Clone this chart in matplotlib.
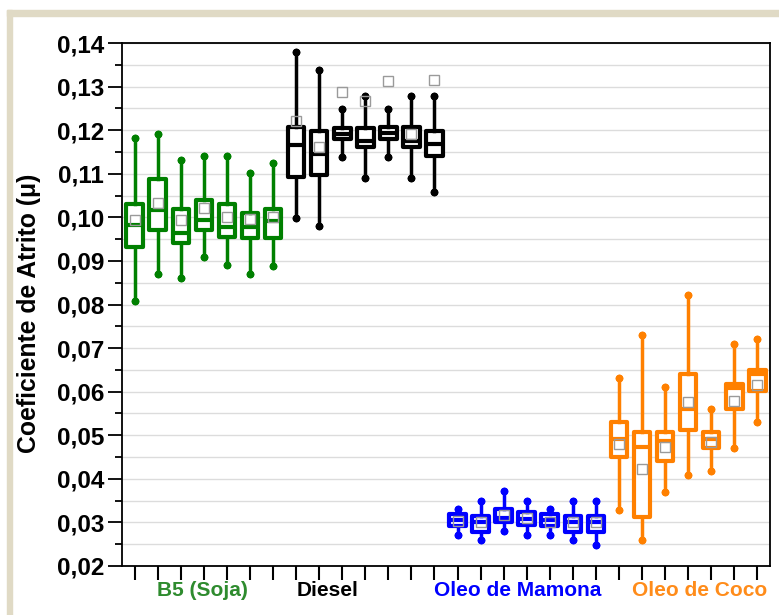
import numpy as np
import matplotlib.pyplot as plt
from matplotlib.patches import Rectangle
from matplotlib.transforms import blended_transform_factory

plt.rcParams['font.family'] = ['Liberation Sans', 'DejaVu Sans']
plt.rcParams['font.weight'] = 'bold'

# grupos e cores
grupos = ["B5 (Soja)", "Diesel", "Oleo de Mamona", "Oleo de Coco"]
cores = ["#008000", "#000000", "#0000ff", "#ff8000"]
cores_texto = ["#2e8b2e", "#000000", "#0000ff", "#ff8c1a"]
pos_rotulo = [3.95, 9.37, 17.6, 25.5]

# estatisticas (7 ensaios por grupo)
b5_min = [0.0808, 0.0870, 0.0860, 0.0910, 0.0890, 0.0870, 0.0889]
b5_q1 = [0.0932, 0.0972, 0.0942, 0.0972, 0.0954, 0.0953, 0.0952]
b5_med = [0.0982, 0.1017, 0.0965, 0.0995, 0.0978, 0.0977, 0.0992]
b5_q3 = [0.1030, 0.1089, 0.1018, 0.1039, 0.1030, 0.1010, 0.1019]
b5_max = [0.1181, 0.1191, 0.1131, 0.1141, 0.1141, 0.1102, 0.1124]
b5_media = [0.0995, 0.1033, 0.0994, 0.1022, 0.1001, 0.0996, 0.1001]

diesel_min = [0.0999, 0.0979, 0.1138, 0.1090, 0.1138, 0.1090, 0.1059]
diesel_q1 = [0.1092, 0.1098, 0.1180, 0.1161, 0.1180, 0.1161, 0.1140]
diesel_med = [0.1166, 0.1145, 0.1191, 0.1176, 0.1193, 0.1174, 0.1168]
diesel_q3 = [0.1208, 0.1197, 0.1206, 0.1205, 0.1208, 0.1208, 0.1199]
diesel_max = [0.1380, 0.1339, 0.1248, 0.1279, 0.1248, 0.1279, 0.1279]
diesel_media = [0.1222, 0.1162, 0.1287, 0.1266, 0.1312, 0.1191, 0.1316]

mamona_min = [0.0272, 0.0260, 0.0281, 0.0272, 0.0272, 0.0260, 0.0248]
mamona_q1 = [0.0291, 0.0279, 0.0302, 0.0295, 0.0291, 0.0279, 0.0279]
mamona_med = [0.0305, 0.0300, 0.0310, 0.0308, 0.0306, 0.0300, 0.0300]
mamona_q3 = [0.0320, 0.0315, 0.0331, 0.0323, 0.0320, 0.0315, 0.0315]
mamona_max = [0.0331, 0.0350, 0.0372, 0.0350, 0.0331, 0.0350, 0.0350]
mamona_media = [0.0303, 0.0300, 0.0318, 0.0310, 0.0302, 0.0300, 0.0300]

coco_min = [0.0329, 0.0259, 0.0369, 0.0409, 0.0419, 0.0470, 0.0531]
coco_q1 = [0.0449, 0.0312, 0.0441, 0.0512, 0.0470, 0.0560, 0.0602]
coco_med = [0.0492, 0.0473, 0.0487, 0.0560, 0.0492, 0.0609, 0.0640]
coco_q3 = [0.0530, 0.0508, 0.0508, 0.0640, 0.0508, 0.0618, 0.0650]
coco_max = [0.0631, 0.0730, 0.0611, 0.0821, 0.0560, 0.0709, 0.0721]
coco_media = [0.0480, 0.0423, 0.0472, 0.0576, 0.0484, 0.0579, 0.0615]

dados = [
    (b5_min, b5_q1, b5_med, b5_q3, b5_max, b5_media),
    (diesel_min, diesel_q1, diesel_med, diesel_q3, diesel_max, diesel_media),
    (mamona_min, mamona_q1, mamona_med, mamona_q3, mamona_max, mamona_media),
    (coco_min, coco_q1, coco_med, coco_q3, coco_max, coco_media),
]

y_ticks = [0.02, 0.03, 0.04, 0.05, 0.06, 0.07, 0.08, 0.09, 0.10, 0.11, 0.12, 0.13, 0.14]
y_tick_labels = ["0,02", "0,03", "0,04", "0,05", "0,06", "0,07", "0,08",
                 "0,09", "0,10", "0,11", "0,12", "0,13", "0,14"]

fig = plt.figure(figsize=(7.79, 6.15), dpi=100)
bege = '#e0dac5'
fig.patches.append(Rectangle((7 / 779, 1 - 16 / 615), 1, 6 / 615,
                             transform=fig.transFigure, color=bege, zorder=-1))
fig.patches.append(Rectangle((7 / 779, 0), 5 / 779, 1 - 10 / 615,
                             transform=fig.transFigure, color=bege, zorder=-1))

ax = fig.add_axes([122 / 779, 1 - 566 / 615, 648 / 779, 523 / 615])

n = 0
for g in range(len(grupos)):
    wmin, q1, med, q3, wmax, media = dados[g]
    c = cores[g]
    stats = []
    for k in range(len(med)):
        stats.append(dict(whislo=wmin[k], q1=q1[k], med=med[k], q3=q3[k],
                          whishi=wmax[k], mean=media[k], fliers=[]))
    pos = list(range(n + 1, n + len(med) + 1))
    n += len(med)
    ax.bxp(stats, positions=pos, widths=0.72, showmeans=True, showfliers=False,
           patch_artist=True, capwidths=0.0,
           boxprops=dict(facecolor='white', edgecolor=c, linewidth=3.0, joinstyle='round'),
           medianprops=dict(color=c, linewidth=3.0, solid_capstyle='butt'),
           whiskerprops=dict(color=c, linewidth=2.5),
           capprops=dict(color=c, linewidth=0, marker='o', markersize=4.5,
                         markerfacecolor=c, markeredgecolor=c),
           meanprops=dict(marker='s', markerfacecolor='none', markeredgecolor='#9a9a9a',
                          markersize=7, markeredgewidth=1.0))

ax.set_xlim(0.45, 28.55)
ax.set_ylim(0.02, 0.14)
ax.set_xticks(range(1, n + 1))
ax.set_xticklabels([])
ax.set_yticks(y_ticks)
ax.set_yticklabels(y_tick_labels)
ax.set_yticks(np.arange(0.025, 0.14, 0.01), minor=True)
ax.yaxis.grid(True, which='both', color='#dcdcdc', linewidth=1.0)
ax.set_axisbelow(True)

ax.tick_params(axis='y', which='major', length=10, width=1.3, labelsize=17.5, pad=3)
ax.tick_params(axis='y', which='minor', length=5, width=1.3)
ax.tick_params(axis='x', which='major', length=10, width=1.5)
for s in ax.spines.values():
    s.set_linewidth(1.3)

ax.set_ylabel("Coeficiente de Atrito (μ)", fontsize=17.8, fontweight='bold')
ax.yaxis.set_label_coords(-0.125, 0.484)

trans = blended_transform_factory(ax.transData, ax.transAxes)
for g in range(len(grupos)):
    ax.text(pos_rotulo[g], -0.046, grupos[g], transform=trans, ha='center', va='center',
            fontsize=15, fontweight='bold', color=cores_texto[g])

fig.savefig("out.png", dpi=100)
